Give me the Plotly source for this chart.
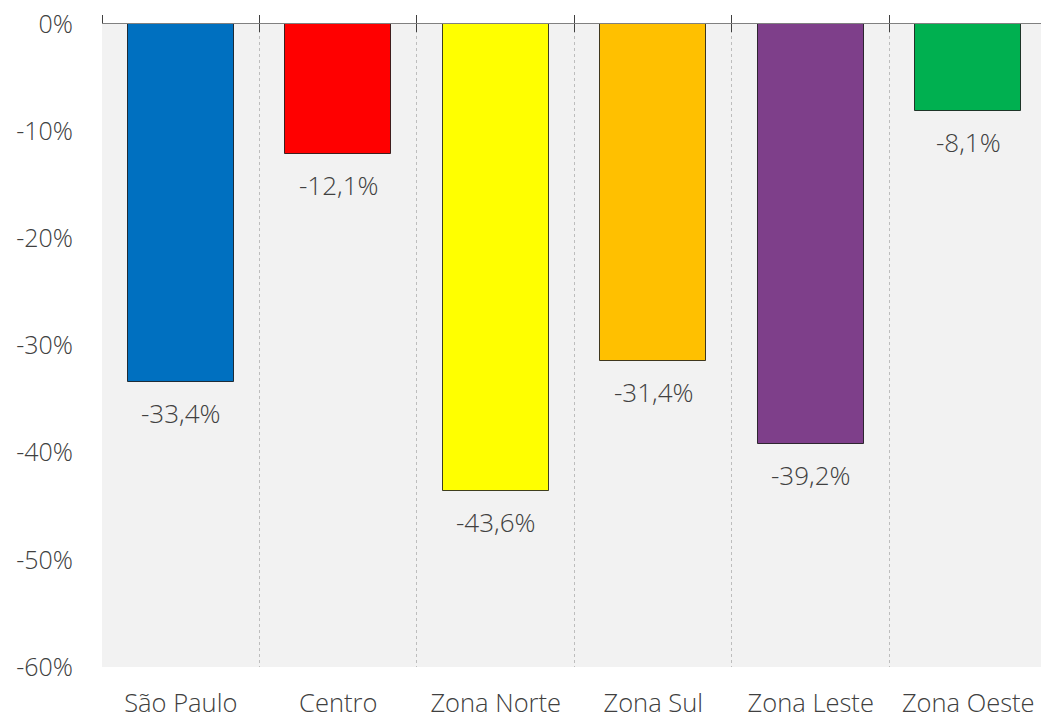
import plotly.graph_objects as go

categories = ["São Paulo", "Centro", "Zona Norte", "Zona Sul", "Zona Leste", "Zona Oeste"]
values = [-33.4, -12.1, -43.6, -31.4, -39.2, -8.1]
labels = ["-33,4%", "-12,1%", "-43,6%", "-31,4%", "-39,2%", "-8,1%"]
colors = ["#0070C0", "#FF0000", "#FFFF00", "#FFC000", "#7E3F8A", "#00B050"]
y_ticks = [0, -10, -20, -30, -40, -50, -60]
y_tick_labels = ["0%", "-10%", "-20%", "-30%", "-40%", "-50%", "-60%"]

FONT = "Open Sans"
TXT = "#404040"
FS = 25
xr = [-0.5, 5.462]

fig = go.Figure()
fig.add_trace(go.Bar(
    x=list(range(len(categories))), y=values,
    marker=dict(color=colors, line=dict(color="rgba(0,0,0,0.75)", width=1)),
    width=0.673, hoverinfo="skip", showlegend=False,
))
for i, (v, t) in enumerate(zip(values, labels)):
    fig.add_annotation(x=i, y=v, text=t, showarrow=False, yshift=-31,
                       font=dict(family=FONT, size=26, color=TXT, weight=300),
                       xref="x", yref="y")

boundaries = [i - 0.5 for i in range(len(categories) + 1)]

fig.update_layout(
    width=1041, height=720,
    margin=dict(l=102, r=0, t=24, b=53, autoexpand=False),
    paper_bgcolor="white", plot_bgcolor="#F2F2F2",
    font=dict(family=FONT, size=FS, color=TXT, weight=300),
    bargap=0,
    xaxis=dict(range=xr, tickmode="array", tickvals=list(range(len(categories))),
               ticktext=categories, showgrid=False, zeroline=False, showline=False,
               ticks="", ticklabelstandoff=18, automargin=False,
               ticklabeloverflow="allow",
               tickfont=dict(family=FONT, size=25.5, color=TXT, weight=300)),
    xaxis2=dict(range=xr, overlaying="x", side="top",
                tickmode="array", tickvals=boundaries, showticklabels=False,
                showgrid=True, griddash="dot", gridcolor="#BDBDBD", gridwidth=1,
                ticks="outside", ticklen=8, tickcolor="#404040", tickwidth=1,
                showline=True, linecolor="#808080", linewidth=1.3, zeroline=False,
                automargin=False),
    xaxis3=dict(range=xr, overlaying="x", side="top",
                tickmode="array", tickvals=boundaries, showticklabels=False,
                showgrid=False, ticks="inside", ticklen=8, tickcolor="#404040",
                tickwidth=1, showline=False, zeroline=False, automargin=False),
    yaxis=dict(range=[-60, 0], tickmode="array", tickvals=y_ticks, ticktext=y_tick_labels,
               showgrid=False, zeroline=False, showline=False, ticks="",
               ticklabelstandoff=28, automargin=False, ticklabeloverflow="allow",
               tickfont=dict(family=FONT, size=FS, color=TXT, weight=300)),
)
fig.add_trace(go.Scatter(x=[xr[0]], y=[0], xaxis="x2", mode="markers",
                         marker=dict(opacity=0), hoverinfo="skip", showlegend=False))
fig.add_trace(go.Scatter(x=[xr[0]], y=[0], xaxis="x3", mode="markers",
                         marker=dict(opacity=0), hoverinfo="skip", showlegend=False))

fig.write_html(
    "out.html",
    config={"displayModeBar": False},
    post_script="document.body.style.margin='0';document.body.style.overflow='hidden';",
)
